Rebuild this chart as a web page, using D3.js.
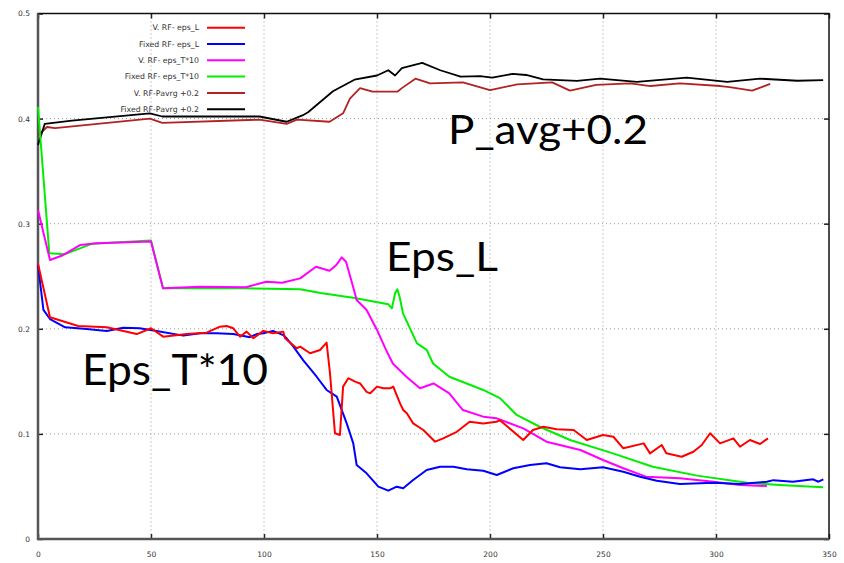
<!DOCTYPE html>
<html lang="en">
<head>
    <meta charset="UTF-8">
    <title>RF eps / Pavrg</title>
    <script src="https://d3js.org/d3.v7.min.js"></script>
    <style>
        body { margin: 0; background: #fff; }
        .tick text { font-family: "DejaVu Sans", sans-serif; font-size: 7.5px; fill: #333; }
        .legend-label { font-family: "DejaVu Sans", sans-serif; font-size: 7.8px; fill: #333; }
        .big-label { font-family: Lato, "Open Sans", sans-serif; fill: #000; }
    </style>
</head>
<body>
    <div id="chart"></div>
    <script>
        // Tick values
        const xTicks = [0, 50, 100, 150, 200, 250, 300, 350];
        const yTicks = [0, 0.1, 0.2, 0.3, 0.4, 0.5];

        // V. RF- eps_L (red)
        const redX = [0, 5.3, 17.8, 30.4, 43.7, 50, 55.4, 65.8, 74.6, 80.5, 83.5, 86.4, 89.4, 92.3, 95.3, 99.7, 104, 108.5, 109.3, 114.5, 116, 120.4, 124.8, 127.7, 129.2, 131.4, 133.6, 135, 137.3, 140.3, 142.5, 145.4, 147, 150, 152.8, 155.8, 157.2, 158.7, 160.2, 161.6, 163.2, 166, 170.5, 175.7, 179.3, 185.3, 191, 197, 203, 204.4, 214.7, 219, 223.6, 229.5, 237, 242.8, 250, 254.6, 259, 268, 270.8, 276, 278, 284.8, 290, 293.7, 297.4, 301.8, 307.7, 310.6, 315, 319.5, 323];
        const redY = [0.262, 0.211, 0.2027, 0.2014, 0.195, 0.2005, 0.1925, 0.195, 0.1963, 0.202, 0.2027, 0.2005, 0.1925, 0.1973, 0.191, 0.198, 0.1957, 0.1973, 0.191, 0.1815, 0.183, 0.1767, 0.1798, 0.1868, 0.1577, 0.1006, 0.099, 0.145, 0.153, 0.1497, 0.148, 0.14, 0.1386, 0.145, 0.1434, 0.1434, 0.145, 0.137, 0.129, 0.1227, 0.1196, 0.11, 0.1037, 0.0926, 0.0958, 0.102, 0.1116, 0.11, 0.1116, 0.113, 0.0942, 0.1037, 0.1068, 0.1044, 0.1037, 0.0942, 0.099, 0.0973, 0.0863, 0.091, 0.0815, 0.0894, 0.0815, 0.0783, 0.083, 0.0894, 0.1006, 0.091, 0.0958, 0.0878, 0.0942, 0.0904, 0.0958];

        // Fixed RF- eps_L (blue)
        const blueX = [0, 2.4, 5.3, 12, 21.5, 30.4, 37.7, 45, 52.5, 64.3, 71.7, 79, 86.4, 93.8, 96.8, 99.7, 104, 108.5, 110, 113, 117.4, 123.3, 127.7, 132.2, 136.6, 139.5, 141, 145.4, 150.6, 155, 158.7, 161.6, 166, 172, 177.9, 183.8, 189.7, 197, 203, 210.3, 217.7, 225, 231, 240, 250, 259, 266.4, 273.8, 284, 299, 310.6, 322.5, 325.4, 334, 343, 345.3, 347.5];
        const blueY = [0.2607, 0.218, 0.2093, 0.2014, 0.1998, 0.198, 0.201, 0.2005, 0.198, 0.1935, 0.1957, 0.1957, 0.195, 0.192, 0.195, 0.1957, 0.198, 0.194, 0.191, 0.183, 0.17, 0.1544, 0.1418, 0.1354, 0.11, 0.091, 0.0704, 0.0625, 0.0498, 0.046, 0.0498, 0.0482, 0.0561, 0.0657, 0.0688, 0.0688, 0.0663, 0.065, 0.0609, 0.0673, 0.0704, 0.072, 0.0682, 0.0663, 0.0682, 0.064, 0.0593, 0.0555, 0.0523, 0.0536, 0.0523, 0.0545, 0.056, 0.0545, 0.0568, 0.0545, 0.0568];

        // V. RF- eps_T*10 (magenta)
        const magX = [0, 5.3, 11, 18.6, 26, 50, 55.3, 71.7, 92, 101, 108, 116, 123, 129, 132, 134.4, 136.3, 138.8, 141, 145.4, 150, 154, 157, 163, 169, 175, 182, 188, 197, 203, 214.7, 225, 240, 250, 259, 269, 284, 299, 310.6, 322.5];
        const magY = [0.313, 0.2655, 0.27, 0.2797, 0.2813, 0.283, 0.2385, 0.24, 0.2395, 0.2448, 0.2439, 0.248, 0.259, 0.2553, 0.2607, 0.268, 0.2638, 0.2448, 0.2274, 0.2179, 0.1989, 0.18, 0.167, 0.1544, 0.1434, 0.148, 0.1386, 0.1227, 0.1164, 0.1148, 0.1053, 0.0926, 0.0847, 0.0752, 0.0673, 0.0593, 0.0578, 0.0545, 0.0514, 0.0504];

        // Fixed RF- eps_T*10 (green)
        const greenX = [0, 5, 12, 24, 50, 55.3, 91, 116, 125, 139.4, 155, 156.6, 158, 159, 160, 161.5, 167.7, 172, 174.8, 182, 197, 204.4, 211.8, 222, 235.4, 254.4, 272, 291.6, 313.7, 328, 347.4];
        const greenY = [0.411, 0.272, 0.271, 0.281, 0.284, 0.2385, 0.2385, 0.2376, 0.234, 0.2296, 0.2233, 0.2195, 0.2338, 0.2376, 0.2305, 0.2147, 0.1862, 0.18, 0.167, 0.1544, 0.1418, 0.134, 0.118, 0.1068, 0.0942, 0.0815, 0.0688, 0.0603, 0.0536, 0.0514, 0.0492];

        // V. RF-Pavrg +0.2 (brown)
        const brownX = [0, 4, 7.5, 49.5, 55, 98, 110, 114.6, 129, 135, 138, 142.5, 148, 159, 161, 167, 173.5, 188, 200, 212, 227.5, 235.4, 247, 262, 271, 284, 302, 306, 316, 324];
        const brownY = [0.384, 0.392, 0.391, 0.4, 0.396, 0.399, 0.395, 0.399, 0.397, 0.405, 0.419, 0.429, 0.4256, 0.4256, 0.429, 0.438, 0.4336, 0.4345, 0.427, 0.4326, 0.4345, 0.4266, 0.432, 0.4336, 0.431, 0.4336, 0.431, 0.43, 0.4266, 0.433];

        // Fixed RF-Pavrg +0.2 (black)
        const blackX = [0, 3, 15, 49.5, 55, 98, 110, 117, 119.5, 130.5, 140, 150, 155, 158, 161, 170, 178, 187, 195.6, 201, 210, 216, 223.5, 238.5, 248.7, 265, 287, 305, 319.5, 336, 347.4];
        const blackY = [0.375, 0.395, 0.398, 0.405, 0.402, 0.402, 0.397, 0.403, 0.406, 0.426, 0.437, 0.441, 0.446, 0.441, 0.448, 0.453, 0.446, 0.44, 0.4405, 0.439, 0.4425, 0.4415, 0.4374, 0.4358, 0.438, 0.435, 0.439, 0.435, 0.438, 0.436, 0.4367];

        const seriesNames = ["V. RF- eps_L", "Fixed RF- eps_L", "V. RF- eps_T*10", "Fixed RF- eps_T*10", "V. RF-Pavrg +0.2", "Fixed RF-Pavrg +0.2"];
        const seriesColors = ["#ff0000", "#0000ff", "#ff00ff", "#00ee00", "#b22222", "#000000"];
        const seriesXs = [redX, blueX, magX, greenX, brownX, blackX];
        const seriesYs = [redY, blueY, magY, greenY, brownY, blackY];

        // Dimensions
        const width = 844;
        const height = 563;
        const plotLeft = 38, plotRight = 829, plotTop = 13.5, plotBottom = 539;

        const x = d3.scaleLinear().domain([0, 350]).range([plotLeft, plotRight]);
        const y = d3.scaleLinear().domain([0, 0.5]).range([plotBottom, plotTop]);

        const svg = d3.select("#chart")
            .append("svg")
            .attr("width", width)
            .attr("height", height);

        // Dotted grid
        svg.append("g").selectAll("line")
            .data(xTicks.slice(1, -1))
            .join("line")
            .attr("x1", d => x(d)).attr("x2", d => x(d))
            .attr("y1", plotTop).attr("y2", plotBottom)
            .attr("stroke", "#999").attr("stroke-dasharray", "1,3");
        svg.append("g").selectAll("line")
            .data(yTicks.slice(1, -1))
            .join("line")
            .attr("y1", d => y(d)).attr("y2", d => y(d))
            .attr("x1", plotLeft).attr("x2", plotRight)
            .attr("stroke", "#999").attr("stroke-dasharray", "1,3");

        // Axes
        const fmt = d => d === 0 ? "0" : String(d);
        svg.append("g")
            .attr("transform", `translate(0,${plotBottom})`)
            .call(d3.axisBottom(x).tickValues(xTicks).tickFormat(fmt).tickSize(-5).tickPadding(13));
        svg.append("g")
            .attr("transform", `translate(${plotLeft},0)`)
            .call(d3.axisLeft(y).tickValues(yTicks).tickFormat(fmt).tickSize(-5).tickPadding(8));
        svg.append("g")
            .attr("transform", `translate(0,${plotTop})`)
            .call(d3.axisTop(x).tickValues(xTicks).tickFormat("").tickSize(-5));
        svg.append("g")
            .attr("transform", `translate(${plotRight},0)`)
            .call(d3.axisRight(y).tickValues(yTicks).tickFormat("").tickSize(-5));
        svg.selectAll(".domain").remove();
        svg.selectAll(".tick line").attr("stroke", "#222").attr("stroke-width", 1.5);

        // Frame
        svg.append("rect")
            .attr("x", plotLeft).attr("y", plotTop)
            .attr("width", plotRight - plotLeft).attr("height", plotBottom - plotTop)
            .attr("fill", "none").attr("stroke", "#111").attr("stroke-width", 1.5);
        svg.append("path")
            .attr("d", `M${plotLeft},${plotTop}V${plotBottom}H${plotRight}`)
            .attr("fill", "none").attr("stroke", "#555").attr("stroke-width", 2.5);

        // Lines
        const line = d3.line().x(d => x(d[0])).y(d => y(d[1]));
        const drawOrder = [4, 5, 3, 2, 1, 0];
        drawOrder.forEach(i => {
            const pts = seriesXs[i].map((v, j) => [v, seriesYs[i][j]]);
            svg.append("path")
                .datum(pts)
                .attr("d", line)
                .attr("fill", "none")
                .attr("stroke", seriesColors[i])
                .attr("stroke-width", i >= 4 ? 1.8 : 2)
                .attr("stroke-linejoin", "round");
        });

        // Legend
        const legend = svg.selectAll(".legend")
            .data(seriesNames)
            .join("g")
            .attr("class", "legend")
            .attr("transform", (d, i) => `translate(0, ${27.7 + i * 16.3})`);
        legend.append("text")
            .attr("class", "legend-label")
            .attr("x", 199)
            .attr("dy", "0.35em")
            .attr("text-anchor", "end")
            .text(d => d);
        legend.append("line")
            .attr("x1", 207).attr("x2", 245)
            .attr("stroke", (d, i) => seriesColors[i])
            .attr("stroke-width", 2);

        // Annotations
        svg.append("text").attr("class", "big-label")
            .attr("x", 448).attr("y", 144).attr("font-size", 41)
            .attr("textLength", 200).attr("lengthAdjust", "spacingAndGlyphs")
            .text("P_avg+0.2");
        svg.append("text").attr("class", "big-label")
            .attr("x", 386).attr("y", 271).attr("font-size", 41)
            .attr("textLength", 112).attr("lengthAdjust", "spacingAndGlyphs")
            .text("Eps_L");
        svg.append("text").attr("class", "big-label")
            .attr("x", 82).attr("y", 385).attr("font-size", 43)
            .attr("textLength", 186).attr("lengthAdjust", "spacingAndGlyphs")
            .text("Eps_T*10");
    </script>
</body>
</html>
